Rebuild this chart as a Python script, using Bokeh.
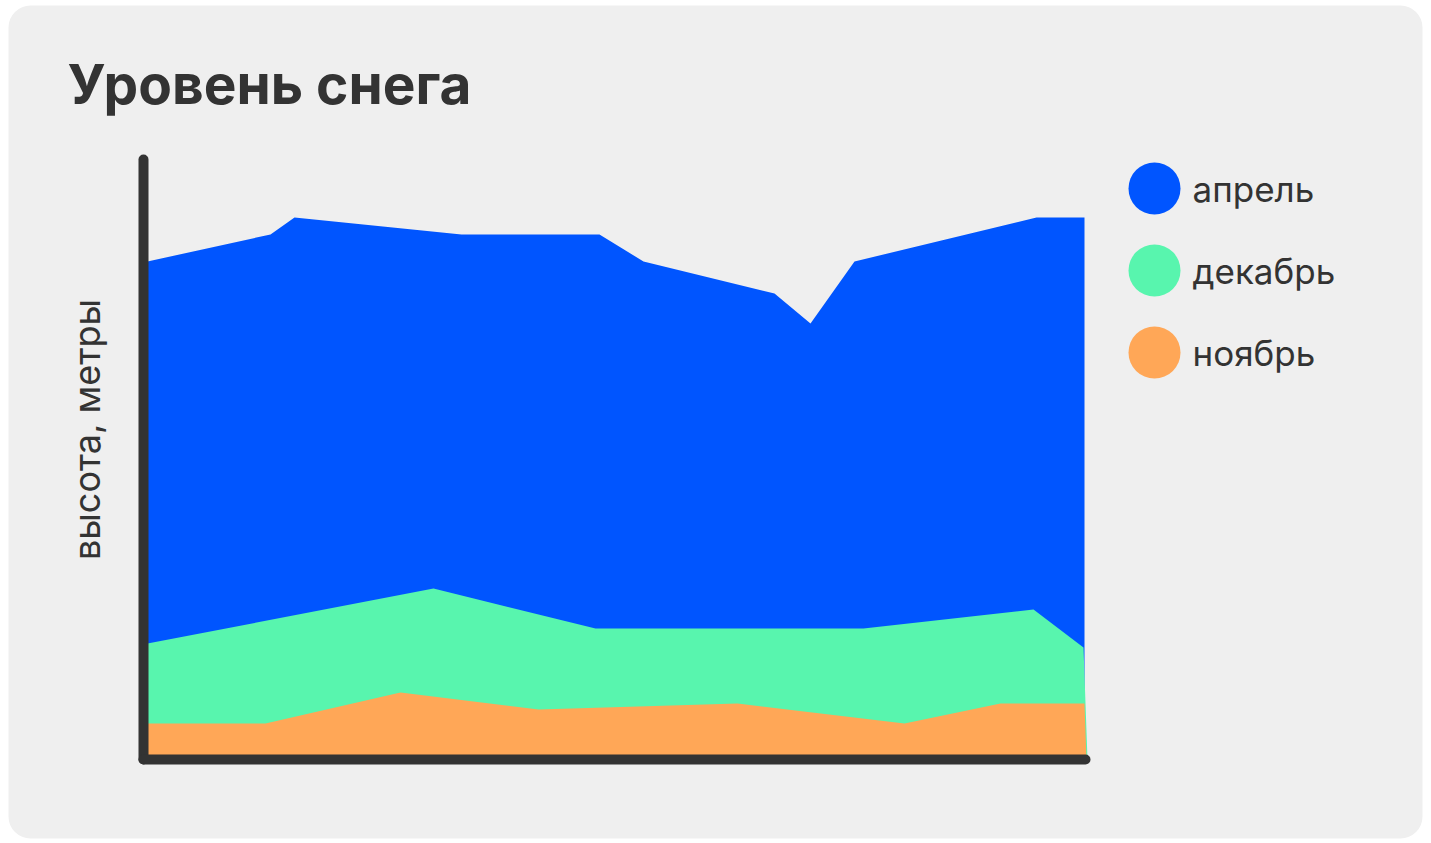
import math
from bokeh.plotting import figure
from bokeh.models import Range1d, ColumnDataSource, Label
from bokeh.core.properties import value
from bokeh.embed import file_html
from bokeh.resources import INLINE

# ---- data ----
title_text = "Уровень снега"
y_label_text = "высота, метры"
series_names = ["апрель", "декабрь", "ноябрь"]
series_colors = ["#0055FF", "#58F5AE", "#FFA757"]

april_x = [0.0, 12.3, 14.7, 31.4, 45.2, 49.6, 62.7, 66.3, 70.7, 88.9, 93.7, 93.7]
april_y = [4.98, 5.25, 5.42, 5.25, 5.25, 4.98, 4.66, 4.36, 4.98, 5.42, 5.42, 0.0]

december_x = [0.0, 28.6, 44.8, 71.6, 88.6, 93.6, 94.0]
december_y = [1.16, 1.71, 1.31, 1.31, 1.50, 1.12, 0.0]

november_x = [0.0, 11.8, 25.3, 39.1, 59.0, 75.7, 85.3, 93.7, 93.9]
november_y = [0.36, 0.36, 0.67, 0.50, 0.56, 0.36, 0.56, 0.56, 0.0]

# ---- style / layout ----
INK = "#333333"
CARD = "#EFEFEF"
FONT = "Inter"
W, H = 1430, 842
AXIS_TOP = 6.0      # top of drawn y axis line (data units)
AXIS_LEFT = -0.4    # x of drawn y axis line (data units)

p = figure(
    width=W, height=H,
    x_range=Range1d(-14.7, 128.3), y_range=Range1d(-0.83, 7.59),
    output_backend="svg", toolbar_location=None,
    x_axis_location=None, y_axis_location=None,
    min_border=0,
)
p.background_fill_color = "white"
p.border_fill_color = "white"
p.outline_line_color = None
p.grid.visible = False

# pixel-space ranges for decoration and texts (y grows downward)
p.extra_x_ranges["px"] = Range1d(0, W)
p.extra_y_ranges["px"] = Range1d(H, 0)

# card background
p.quad(left=8, right=1422, top=5, bottom=838, fill_color=CARD, line_color=None,
       border_radius=22, x_range_name="px", y_range_name="px")

# title
p.add_layout(Label(
    x=67, y=83, x_range_name="px", y_range_name="px",
    text=title_text, text_font=FONT, text_font_size="55px",
    text_font_style="bold", text_color=INK,
    text_align="left", text_baseline="alphabetic",
))

# y axis caption
p.add_layout(Label(
    x=86, y=429, x_range_name="px", y_range_name="px", angle=math.pi / 2,
    text=y_label_text, text_font=FONT, text_font_size="36px",
    text_color=INK, text_align="center", text_baseline="alphabetic",
))

# areas
for xs, ys, col in [(april_x, april_y, series_colors[0]),
                    (december_x, december_y, series_colors[1]),
                    (november_x, november_y, series_colors[2])]:
    p.varea(x=xs, y1=0, y2=ys, fill_color=col, fill_alpha=1.0)

# axis lines
x_end = max(max(april_x), max(december_x), max(november_x))
p.line(x=[AXIS_LEFT, AXIS_LEFT], y=[AXIS_TOP, 0], line_color=INK,
       line_width=10, line_cap="round", line_join="round")
p.line(x=[AXIS_LEFT, x_end - 0.2], y=[0, 0], line_color=INK,
       line_width=10, line_cap="round", line_join="round")

# legend drawn in its own pixel-based ranges
p.extra_x_ranges["leg"] = Range1d(-1154, W - 1154)
p.extra_y_ranges["leg"] = Range1d((H - 188) / 82, -188 / 82)
leg = ColumnDataSource(dict(
    x=[0] * len(series_names),
    y=list(range(len(series_names))),
    name=series_names,
    color=series_colors,
))
p.scatter(x="x", y="y", size=52, fill_color="color", line_color=None,
          source=leg, x_range_name="leg", y_range_name="leg")
p.text(x="x", y="y", text="name", x_offset=38, text_baseline="middle",
       text_align="left", text_font=value(FONT), text_font_size="35px",
       text_color=INK, source=leg, x_range_name="leg", y_range_name="leg")

open("out.html", "w").write(file_html(p, INLINE))
